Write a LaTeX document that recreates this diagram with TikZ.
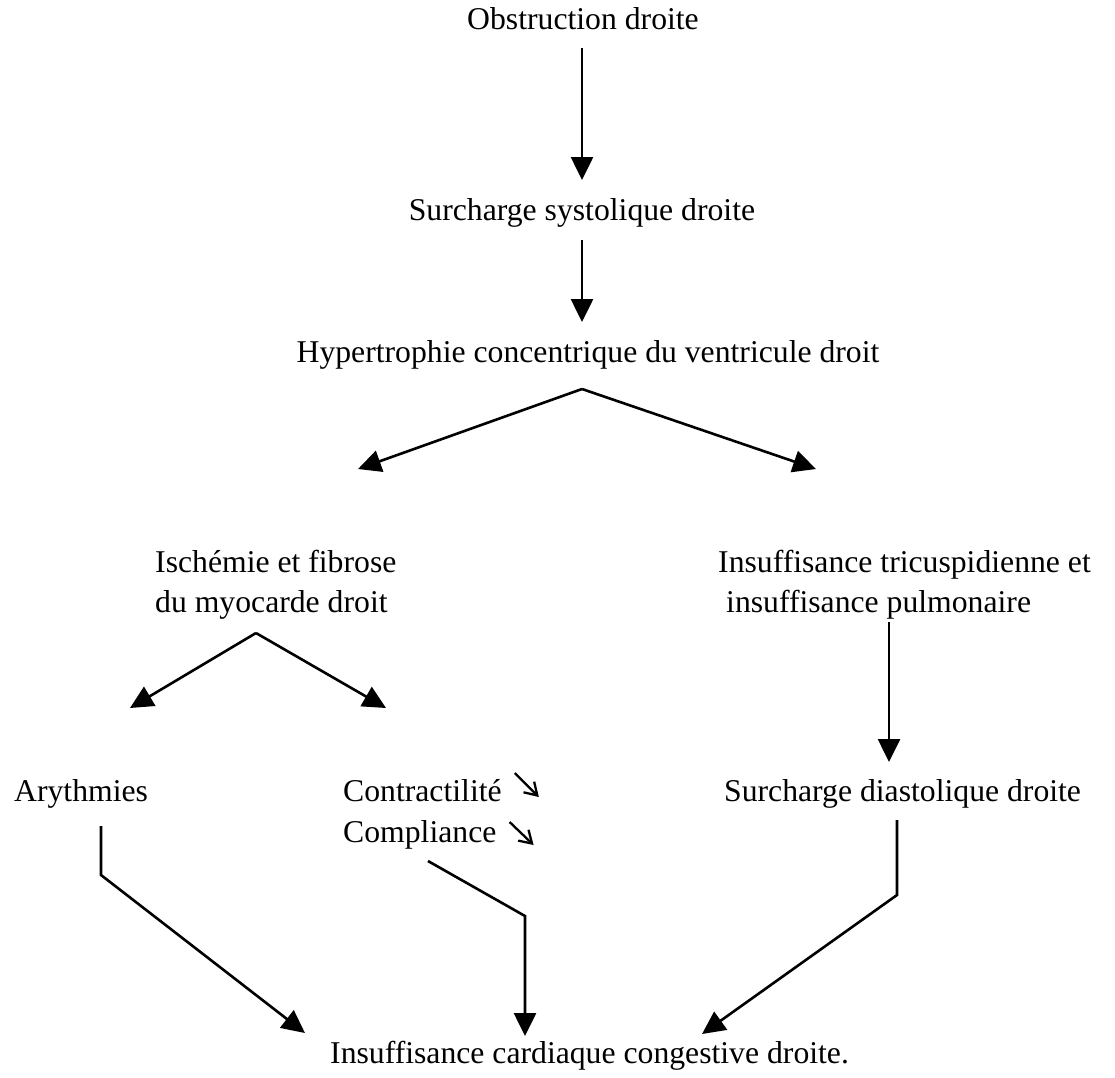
\documentclass[tikz,border=0pt]{standalone}
\usepackage{fontspec}
\setmainfont{Liberation Serif}
\usetikzlibrary{arrows.meta,calc}
\begin{document}
\begin{tikzpicture}[x=1pt,y=-1pt,
  txt/.style={inner sep=0pt,font=\fontsize{31.7}{40.5}\selectfont,align=left},
  conn/.style={line width=2.6pt,-{Triangle[length=23pt,width=22pt]}},
  small/.style={line width=2.3pt,-{Straight Barb[length=12pt,width=15pt,line width=2.3pt]}}]
\useasboundingbox[fill=white] (0,0) rectangle (1115,1077);
\node[txt,anchor=base] (obs) at (583,29) {Obstruction droite};
\node[txt,anchor=base] (sys) at (582,220) {Surcharge systolique droite};
\node[txt,anchor=base] (hyp) at (588,362) {Hypertrophie concentrique du ventricule droit};
\node[txt,anchor=base west] (isch) at (155,572) {Ischémie et fibrose};
\node[txt,anchor=base west] (isch2) at (155,612) {du myocarde droit};
\node[txt,anchor=base west] (ins) at (718,572) {Insuffisance tricuspidienne et};
\node[txt,anchor=base west] (ins2) at (726,612) {insuffisance pulmonaire};
\node[txt,anchor=base west] (ary) at (14,801) {Arythmies};
\node[txt,anchor=base west] (contr) at (343,801) {Contractilité};
\node[txt,anchor=base west] (comp) at (343,842) {Compliance};
\node[txt,anchor=base west] (diast) at (724,801) {Surcharge diastolique droite};
\node[txt,anchor=base west] (icc) at (330,1063) {Insuffisance cardiaque congestive droite.};
% connector points
\coordinate (a1) at (582,48);   \coordinate (a2) at (582,180);
\coordinate (b1) at (582,240);  \coordinate (b2) at (582,322);
\coordinate (h) at (582,389);
\coordinate (hl) at (358,469);  \coordinate (hr) at (816,469);
\coordinate (i) at (256,633);
\coordinate (il) at (130,708);  \coordinate (ir) at (386,708);
\coordinate (t1) at (889,622);  \coordinate (t2) at (889,762);
\coordinate (y1) at (101,826);  \coordinate (y2) at (101,875);  \coordinate (y3) at (305,1033);
\coordinate (c1) at (428,861);  \coordinate (c2) at (525,916);  \coordinate (c3) at (525,1036);
\coordinate (d1) at (897,820);  \coordinate (d2) at (897,895);  \coordinate (d3) at (702,1034);
\draw[conn] (a1) -- (a2);
\draw[conn] (b1) -- (b2);
\draw[conn] (h) -- (hl);
\draw[conn] (h) -- (hr);
\draw[conn] (i) -- (il);
\draw[conn] (i) -- (ir);
\draw[conn] (t1) -- (t2);
\draw[conn] (y1) -- (y2) -- (y3);
\draw[conn] (c1) -- (c2) -- (c3);
\draw[conn] (d1) -- (d2) -- (d3);
% small decrease arrows
\draw[small] ($(contr.base east)+(13,-28)$) -- ($(contr.base east)+(37,-4)$);
\draw[small] ($(comp.base east)+(13,-20)$) -- ($(comp.base east)+(37,3)$);
\end{tikzpicture}
\end{document}
